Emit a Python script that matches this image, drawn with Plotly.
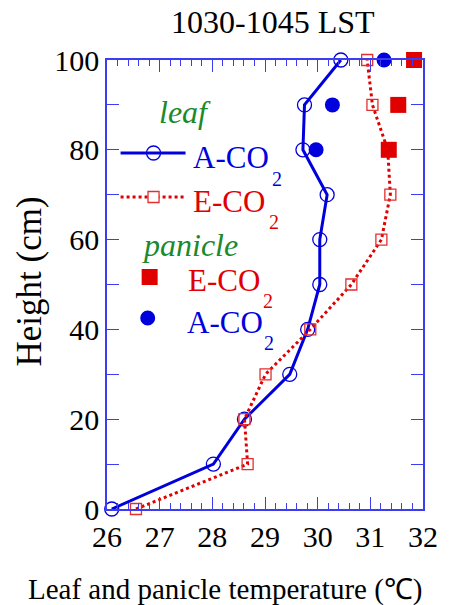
import plotly.graph_objects as go

# ---- data ----
heights = [0, 10, 20, 30, 40, 50, 60, 70, 80, 90, 100]
leaf_a_co2 = [26.09, 28.02, 28.61, 29.47, 29.81, 30.04, 30.04, 30.18, 29.72, 29.75, 30.44]
leaf_e_co2 = [26.55, 28.67, 28.61, 29.01, 29.86, 30.64, 31.21, 31.38, 31.33, 31.04, 30.94]
panicle_heights = [80, 90, 100]
panicle_e_co2 = [31.35, 31.53, 31.83]
panicle_a_co2 = [29.97, 30.28, 31.26]
x_range = [26, 32]
y_range = [0, 100]

BLUE = "#0000dd"
RED = "#e00000"
GREEN = "#1a8a2a"
AXIS = "#3c3cf0"
FONT = "Liberation Serif"

W, H = 450, 605
L, R, T, B = 107, 433, 60, 509


def px(x):
    return (x - L) / (R - L)


def py(y):
    return (B - y) / (B - T)


fig = go.Figure()
fig.add_trace(go.Scatter(
    x=leaf_a_co2, y=heights, mode="lines+markers",
    line=dict(color=BLUE, width=3),
    marker=dict(symbol="circle-open", size=14, color=BLUE, line=dict(width=1.3)),
    showlegend=False, cliponaxis=False))
fig.add_trace(go.Scatter(
    x=leaf_e_co2, y=heights, mode="lines+markers",
    line=dict(color=RED, width=3, dash="dot"),
    marker=dict(symbol="square-open", size=11, color="#e03030", line=dict(width=1.3)),
    showlegend=False, cliponaxis=False))
fig.add_trace(go.Scatter(
    x=panicle_e_co2, y=panicle_heights, mode="markers",
    marker=dict(symbol="square", size=16, color=RED),
    showlegend=False, cliponaxis=False))
fig.add_trace(go.Scatter(
    x=panicle_a_co2, y=panicle_heights, mode="markers",
    marker=dict(symbol="circle", size=15, color=BLUE),
    showlegend=False, cliponaxis=False))

# ---- custom legend ----
shapes = [
    dict(type="line", xref="paper", yref="paper", x0=px(121), x1=px(188), y0=py(153), y1=py(153),
         line=dict(color=BLUE, width=3)),
    dict(type="circle", xref="paper", yref="paper", xsizemode="pixel", ysizemode="pixel",
         xanchor=px(155), yanchor=py(153), x0=-7, x1=7, y0=-7, y1=7,
         line=dict(color=BLUE, width=1.3)),
    dict(type="line", xref="paper", yref="paper", x0=px(121), x1=px(188), y0=py(197), y1=py(197),
         line=dict(color=RED, width=3, dash="dot")),
    dict(type="rect", xref="paper", yref="paper", xsizemode="pixel", ysizemode="pixel",
         xanchor=px(155), yanchor=py(197), x0=-5.5, x1=5.5, y0=-5.5, y1=5.5,
         fillcolor="white", line=dict(color="#e03030", width=1.3)),
    dict(type="rect", xref="paper", yref="paper", xsizemode="pixel", ysizemode="pixel",
         xanchor=px(151), yanchor=py(277), x0=-8, x1=8, y0=-8, y1=8,
         fillcolor=RED, line=dict(width=0)),
    dict(type="circle", xref="paper", yref="paper", xsizemode="pixel", ysizemode="pixel",
         xanchor=px(149), yanchor=py(318), x0=-7.5, x1=7.5, y0=-7.5, y1=7.5,
         fillcolor=BLUE, line=dict(width=0)),
]


def ann(text, x, y, size, color="black", xanchor="center", yanchor="middle", italic=False, angle=0):
    t = "<i>" + text + "</i>" if italic else text
    return dict(text=t, x=px(x), y=py(y), xref="paper", yref="paper", showarrow=False,
                xanchor=xanchor, yanchor=yanchor, textangle=angle,
                font=dict(family=FONT, size=size, color=color))


annotations = [
    ann("1030-1045 LST", 278, 22, 32),
    ann("Height (cm)", 27, 281, 35, angle=-90),
    ann("Leaf and panicle temperature (℃)", 229, 589, 29),
    ann("leaf", 187, 112, 32, GREEN, italic=True),
    ann("A-CO", 194, 157, 31, BLUE, xanchor="left"),
    ann("2", 282, 179, 20, BLUE),
    ann("E-CO", 194, 201, 31, RED, xanchor="left"),
    ann("2", 279, 222, 20, RED),
    ann("panicle", 193, 245, 32, GREEN, italic=True),
    ann("E-CO", 189, 280, 31, RED, xanchor="left"),
    ann("2", 273, 301, 20, RED),
    ann("A-CO", 187, 322, 31, BLUE, xanchor="left"),
    ann("2", 274, 343, 20, BLUE),
]

fig.update_layout(
    width=W, height=H,
    margin=dict(l=L, r=W - R, t=T, b=H - B),
    plot_bgcolor="white",
    xaxis=dict(range=x_range, dtick=1, showline=True, linecolor=AXIS, linewidth=1.5,
               mirror="allticks", ticks="inside", ticklen=12, tickwidth=1.3, tickcolor=AXIS,
               showgrid=False, zeroline=False,
               tickfont=dict(family=FONT, size=30, color="black"),
               minor=dict(ticks="inside", dtick=0.2, ticklen=6, tickwidth=1.1, tickcolor=AXIS)),
    yaxis=dict(range=y_range, dtick=20, showline=True, linecolor=AXIS, linewidth=1.5,
               mirror="allticks", ticks="inside", ticklen=12, tickwidth=1.3, tickcolor=AXIS,
               showgrid=False, zeroline=False,
               tickfont=dict(family=FONT, size=30, color="black"),
               minor=dict(ticks="inside", dtick=10, ticklen=12, tickwidth=1.3, tickcolor=AXIS)),
    shapes=shapes, annotations=annotations,
)

fig.write_html("out.html")
